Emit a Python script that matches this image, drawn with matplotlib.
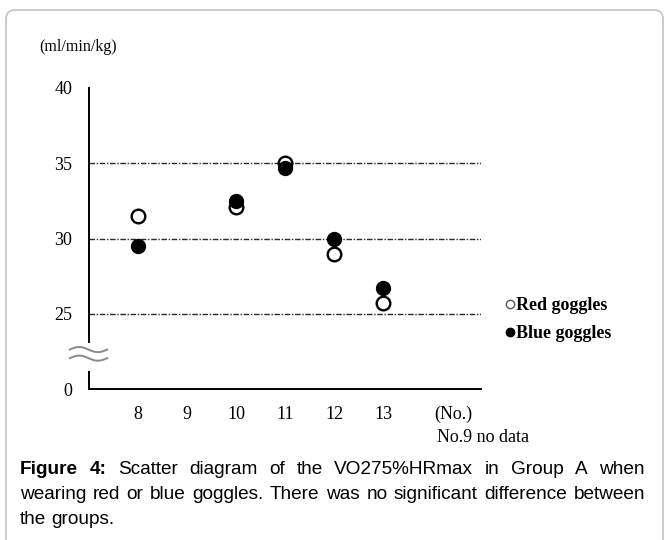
# coding=utf-8
#
# Description: Scatter diagram of VO2 at 75%HRmax (Group A), red vs blue goggles
#
import numpy as np
import matplotlib as mpl
mpl.use('Agg')
import matplotlib.pyplot as plt
from matplotlib.patches import FancyBboxPatch

# Data
subjects = [8, 10, 11, 12, 13]
red_goggles = [31.5, 32.1, 35.0, 29.0, 25.7]
blue_goggles = [29.5, 32.5, 34.7, 30.0, 26.7]
xtick_values = [8, 9, 10, 11, 12, 13]
xtick_labels = ['8', '9', '10', '11', '12', '13']
ytick_values = [20, 25, 30, 35, 40]
ytick_labels = ['0', '25', '30', '35', '40']
grid_values = [25, 30, 35]
caption_lines = [
    [('Figure', 'bold'), ('4:', 'bold'), ('Scatter', 'normal'), ('diagram', 'normal'), ('of', 'normal'),
     ('the', 'normal'), ('VO275%HRmax', 'normal'), ('in', 'normal'), ('Group', 'normal'),
     ('A', 'normal'), ('when', 'normal')],
    [(w, 'normal') for w in 'wearing red or blue goggles. There was no significant difference between'.split()],
    [(w, 'normal') for w in 'the groups.'.split()],
]

if __name__ == '__main__':

    W, H = 664, 540
    fig = plt.figure(figsize=(W / 100, H / 100), dpi=100)
    serif = 'Liberation Serif'
    sans = 'Liberation Sans'

    # Outer rounded frame
    frame = FancyBboxPatch((6, -40), 657, 570, boxstyle='round,pad=0,rounding_size=9',
                           transform=None, facecolor='none', edgecolor='#c4c4c4', lw=1.2)
    fig.patches.append(frame)

    ax = fig.add_axes([89 / W, 151 / H, 392 / W, 301 / H])
    ax.set_xlim(7, 15)
    ax.set_ylim(20, 40)

    # Gridlines (dash-dot)
    for g in grid_values:
        ax.axhline(g, color='#2a2a2a', lw=1.0, ls=(0, (4, 1.2, 1, 1.2)), zorder=1)

    # Points
    ms = 9.8
    ax.plot(subjects, red_goggles, ls='none', marker='o', ms=ms, mfc='white', mec='black', mew=1.7, zorder=3)
    ax.plot(subjects, blue_goggles, ls='none', marker='o', ms=ms, mfc='black', mec='black', mew=1.2, zorder=4)

    # Axes / broken y-axis
    for s in ['top', 'right']:
        ax.spines[s].set_visible(False)
    ax.spines['bottom'].set_linewidth(1.4)
    ax.spines['left'].set_linewidth(1.4)
    ax.spines['left'].set_bounds(23.1, 40)
    ax.plot([7, 7], [20, 21.2], color='black', lw=1.4, clip_on=False, solid_capstyle='butt')
    t = np.linspace(0, 1, 60)
    for yb in [22.62, 22.05]:
        ax.plot(6.61 + 0.76 * t, yb + 0.17 * np.sin(2 * np.pi * t), color='#8a8a8a', lw=1.4, clip_on=False)

    ax.set_xticks(xtick_values)
    ax.set_xticklabels(xtick_labels)
    ax.set_yticks(ytick_values)
    ax.set_yticklabels(ytick_labels)
    ax.tick_params(length=0, labelsize=13, pad=12)
    for lab in ax.get_xticklabels() + ax.get_yticklabels():
        lab.set_fontfamily(serif)

    # Legend
    h_red, = ax.plot([], [], ls='none', marker='o', ms=6, mfc='white', mec='#555566', mew=1.0)
    h_blue, = ax.plot([], [], ls='none', marker='o', ms=6, mfc='black', mec='black')
    ax.legend([h_red, h_blue], ['Red goggles', 'Blue goggles'], loc='upper left',
              bbox_to_anchor=(505 / W, 1 - 297 / H), bbox_transform=fig.transFigure,
              frameon=False, handlelength=0.5, handletextpad=0.1, borderpad=0, borderaxespad=0,
              labelspacing=0.62, prop={'family': serif, 'weight': 'bold', 'size': 13})

    # Extra labels
    fig.text(78 / W, 1 - 47 / H, '(ml/min/kg)', family=serif, size=11.5, ha='center', va='center')
    fig.text(453 / W, 1 - 414 / H, '(No.)', family=serif, size=13, ha='center', va='center')
    fig.text(483 / W, 1 - 437 / H, 'No.9 no data', family=serif, size=13, ha='center', va='center')

    # Justified caption
    renderer = fig.canvas.get_renderer()
    x_left, x_right = 20, 645
    line_base = [474, 499, 524]
    for i, words in enumerate(caption_lines):
        texts = [fig.text(0, 1 - line_base[i] / H, w, family=sans, weight=wt, size=13.7,
                          ha='left', va='baseline') for w, wt in words]
        widths = [tx.get_window_extent(renderer).width for tx in texts]
        if i < len(caption_lines) - 1:
            gap = (x_right - x_left - sum(widths)) / (len(texts) - 1)
        else:
            gap = 5
        x = x_left
        for tx, wd in zip(texts, widths):
            tx.set_x(x / W)
            x += wd + gap

    fig.savefig('out.png', dpi=100)
    plt.close()
